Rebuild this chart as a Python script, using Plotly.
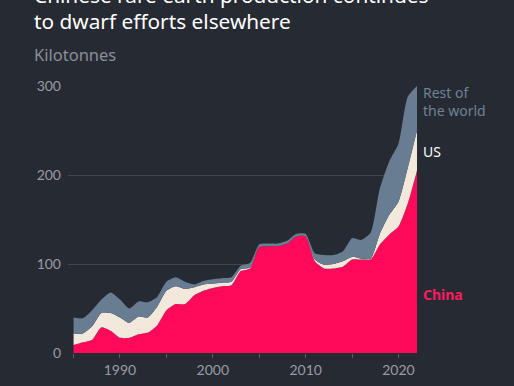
import plotly.graph_objects as go

years = list(range(1985, 2023))
china = [9, 12, 15, 29, 25, 17, 17, 21, 23, 31, 48, 55, 55, 65, 70, 73, 75, 76, 92, 95,
         119, 120, 120, 123, 131, 131, 103, 95, 95, 97, 105, 105, 105, 122, 133, 142, 168, 205]
china_us = [22, 22, 30, 45, 45, 40, 34, 41, 40, 52, 70, 75, 72, 74, 77, 78, 79, 80, 94, 96,
            119, 120, 120, 123, 131, 131, 105, 99, 100, 103, 108, 106, 106, 134, 155, 170, 208, 250]
total = [40, 39, 48, 60, 68, 60, 50, 58, 57, 63, 80, 85, 80, 77, 81, 83, 84, 85, 98, 101,
         122, 123, 123, 126, 134, 134, 112, 110, 110, 114, 129, 127, 135, 185, 215, 235, 288, 300]
us = [a - b for a, b in zip(china_us, china)]
rest = [a - b for a, b in zip(total, china_us)]

BG = "#262a33"
C_CHINA = "#ff0a5a"
C_US = "#f2e8dc"
C_ROW = "#687d92"

fig = go.Figure()
for name, vals, col in [("China", china, C_CHINA), ("US", us, C_US), ("Rest of the world", rest, C_ROW)]:
    fig.add_trace(go.Scatter(x=years, y=vals, name=name, stackgroup="one",
                             mode="lines", line=dict(width=0, shape="spline", smoothing=0.6),
                             fillcolor=col, hoverinfo="x+y+name"))

fig.update_layout(
    width=514, height=386, paper_bgcolor=BG, plot_bgcolor=BG,
    margin=dict(l=67.5, r=96.5, t=86, b=33, autoexpand=False),
    showlegend=False,
    font=dict(family="Lato", color="#9a9ca2", size=14),
)
fig.update_xaxes(range=[1984.4, 2022], tickvals=[1990, 2000, 2010, 2020],
                 showgrid=False, zeroline=False, showline=False, automargin=False,
                 ticks="outside", ticklen=4, tickcolor="#5a5e66",
                 minor=dict(tick0=1985, dtick=5, ticks="outside", ticklen=4, tickcolor="#5a5e66", showgrid=False),
                 tickfont=dict(size=14, color="#9a9ca2"))
fig.update_yaxes(range=[0, 300], tickvals=[0, 100, 200, 300], showgrid=True,
                 gridcolor="#41454d", gridwidth=1, zeroline=False, showline=False,
                 automargin=False, ticks="", ticklabelstandoff=6,
                 tickfont=dict(size=14, color="#9a9ca2"))

def px_x(px):
    return (px - 67.5) / 350.0

def px_y(py):
    return (353 - py) / 267.0

anns = [
    dict(text="Chinese rare earth production continues", x=px_x(31), y=px_y(-5),
         font=dict(family="Noto Sans", size=20.8, color="#ffffff")),
    dict(text="to dwarf efforts elsewhere", x=px_x(31), y=px_y(21),
         font=dict(family="Noto Sans", size=20.8, color="#ffffff")),
    dict(text="Kilotonnes", x=px_x(31), y=px_y(55),
         font=dict(family="Noto Sans", size=16.5, color="#8c8f96")),
    dict(text="Rest of<br>the world", x=px_x(422), y=px_y(101),
         font=dict(family="Noto Sans", size=14, color="#6f8296")),
    dict(text="US", x=px_x(422), y=px_y(151),
         font=dict(family="Noto Sans", size=14, color="#ffffff")),
    dict(text="<b>China</b>", x=px_x(422), y=px_y(294),
         font=dict(family="Noto Sans", size=14, color="#ff1a60")),
]
for a in anns:
    fig.add_annotation(xref="paper", yref="paper", xanchor="left", yanchor="middle",
                       showarrow=False, align="left", **a)

fig.write_html("out.html", config={"displayModeBar": False},
               post_script="document.body.style.margin='0';document.body.style.overflow='hidden';")
